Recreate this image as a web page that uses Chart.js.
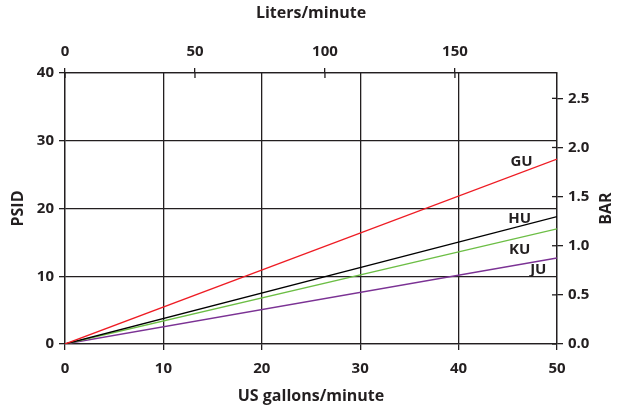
<!DOCTYPE html>
<html>
<head>
<meta charset="utf-8">
<script src="https://cdn.jsdelivr.net/npm/chart.js@4"></script>
<style>
  html, body { margin: 0; padding: 0; background: #fff; }
  #wrap { width: 624px; height: 410px; }
</style>
</head>
<body>
<div id="wrap"><canvas id="chart"></canvas></div>
<script>
// flow (US gpm) vs pressure drop (psid), straight lines from the origin
const gpm = [0, 50];
const guPsi = [0, 27.3];
const huPsi = [0, 18.8];
const kuPsi = [0, 17.0];
const juPsi = [0, 12.7];

const gpmTicks = [0, 10, 20, 30, 40, 50];
const psiTicks = [0, 10, 20, 30, 40];
const litreTicks = [0, 50, 100, 150];
const barTicks = [0, 0.5, 1.0, 1.5, 2.0, 2.5];

const LPM_PER_GPM = 3.78541;
const PSI_PER_BAR = 14.5038;

const ink = '#231f20';
const font = 'Open Sans';

function pts(ys) {
    return gpm.map((x, i) => ({ x: x, y: ys[i] }));
}

function fixTicks(list) {
    return (scale) => { scale.ticks = list.map((v) => ({ value: v })); };
}

// series names drawn next to each line, placed in data units
const seriesLabels = [
    { text: 'GU', x: 46.4, y: 26.9 },
    { text: 'HU', x: 46.2, y: 18.55 },
    { text: 'KU', x: 46.2, y: 13.9 },
    { text: 'JU', x: 48.1, y: 10.9 }
];

const extras = {
    id: 'extras',
    afterDraw(chart) {
        const ctx = chart.ctx;
        const sx = chart.scales.x, sy = chart.scales.y;
        const top = chart.scales.x2, right = chart.scales.y2;
        ctx.save();
        ctx.strokeStyle = ink;
        ctx.lineWidth = 1.3;
        // inner half of the crossing ticks on top and right axes
        top.ticks.forEach((t) => {
            const px = top.getPixelForValue(t.value);
            ctx.beginPath();
            ctx.moveTo(px, top.bottom);
            ctx.lineTo(px, top.bottom + 5);
            ctx.stroke();
        });
        right.ticks.forEach((t) => {
            const py = right.getPixelForValue(t.value);
            ctx.beginPath();
            ctx.moveTo(right.left, py);
            ctx.lineTo(right.left - 5, py);
            ctx.stroke();
        });
        ctx.fillStyle = ink;
        ctx.font = 'bold 15px "' + font + '"';
        ctx.textAlign = 'center';
        ctx.textBaseline = 'middle';
        seriesLabels.forEach((l) => {
            ctx.fillText(l.text, sx.getPixelForValue(l.x), sy.getPixelForValue(l.y));
        });
        // right axis title reads bottom to top
        ctx.font = 'bold 16px "' + font + '"';
        ctx.translate(606, (chart.chartArea.top + chart.chartArea.bottom) / 2);
        ctx.rotate(-Math.PI / 2);
        ctx.fillText('BAR', 0, 0);
        ctx.restore();
    }
};

const tickFont = { family: font, size: 15, weight: 'bold' };
const titleFont = { family: font, size: 16, weight: 'bold' };

new Chart(document.getElementById('chart'), {
    type: 'line',
    data: {
        datasets: [
            { label: 'GU', data: pts(guPsi), borderColor: '#ee1c24' },
            { label: 'HU', data: pts(huPsi), borderColor: '#000000' },
            { label: 'KU', data: pts(kuPsi), borderColor: '#6cbe45' },
            { label: 'JU', data: pts(juPsi), borderColor: '#7b3294' }
        ]
    },
    options: {
        responsive: true,
        maintainAspectRatio: false,
        animation: false,
        layout: { padding: 0 },
        elements: {
            point: { radius: 0 },
            line: { borderWidth: 1.4, tension: 0 }
        },
        plugins: {
            legend: { display: false },
            tooltip: { enabled: false }
        },
        scales: {
            x: {
                type: 'linear', position: 'bottom', min: 0, max: 50,
                afterBuildTicks: fixTicks(gpmTicks),
                afterFit: (s) => { s.height = 66; },
                grid: { color: ink, lineWidth: 1.3, tickLength: 6 },
                border: { color: ink, width: 1.3 },
                ticks: { color: ink, font: tickFont, padding: 10, maxRotation: 0 },
                title: { display: true, text: 'US gallons/minute', color: ink, font: titleFont, padding: { top: 0, bottom: 4 } }
            },
            x2: {
                type: 'linear', position: 'top', min: 0, max: 50 * LPM_PER_GPM,
                afterBuildTicks: fixTicks(litreTicks),
                afterFit: (s) => { s.height = 73; },
                grid: { drawOnChartArea: false, color: ink, lineWidth: 1.3, tickLength: 5 },
                border: { color: ink, width: 1.3 },
                ticks: { color: ink, font: tickFont, padding: 7, maxRotation: 0 },
                title: { display: true, text: 'Liters/minute', color: ink, font: titleFont, padding: { top: 4, bottom: 0 } }
            },
            y: {
                type: 'linear', position: 'left', min: 0, max: 40,
                afterBuildTicks: fixTicks(psiTicks),
                afterFit: (s) => { s.width = 65; },
                grid: { color: ink, lineWidth: 1.3, tickLength: 6 },
                border: { color: ink, width: 1.3 },
                ticks: { color: ink, font: tickFont, padding: 5 },
                title: { display: true, text: 'PSID', color: ink, font: titleFont, padding: { top: 9, bottom: 0 } }
            },
            y2: {
                type: 'linear', position: 'right', min: 0, max: 40 / PSI_PER_BAR,
                afterBuildTicks: fixTicks(barTicks),
                afterFit: (s) => { s.width = 67; },
                grid: { drawOnChartArea: false, color: ink, lineWidth: 1.3, tickLength: 6 },
                border: { color: ink, width: 1.3 },
                ticks: { color: ink, font: tickFont, padding: 5, callback: (v) => v.toFixed(1) }
            }
        }
    },
    plugins: [extras]
});
</script>
</body>
</html>
